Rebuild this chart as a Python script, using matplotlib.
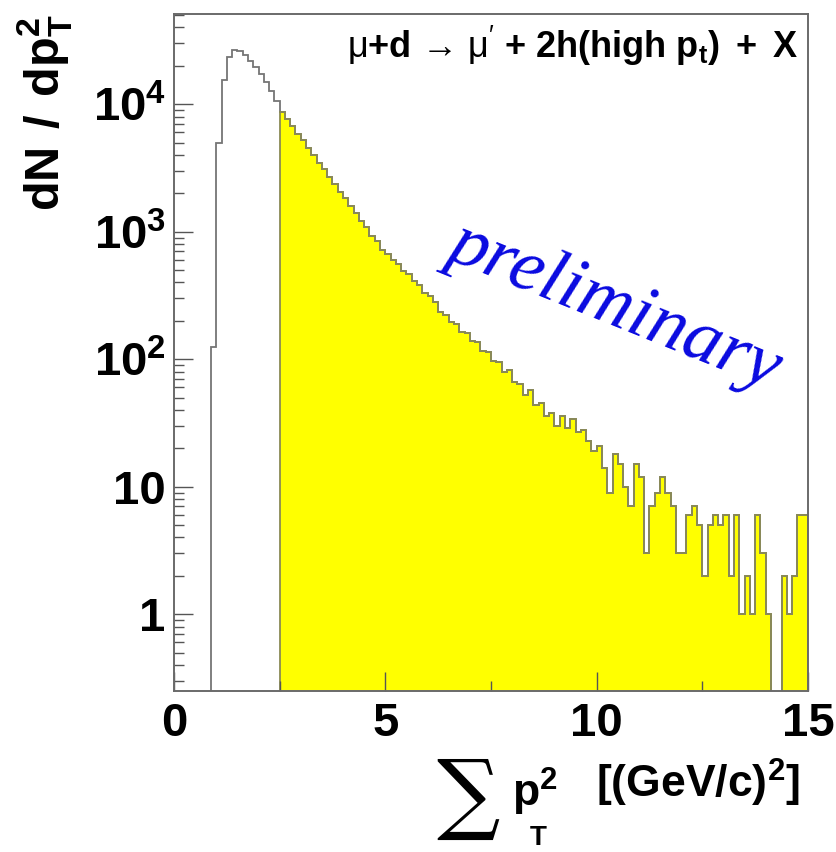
import matplotlib.pyplot as plt
import numpy as np
from matplotlib.ticker import FixedLocator, FixedFormatter, NullFormatter

plt.rcParams["font.family"] = ["Liberation Sans", "DejaVu Sans"]
plt.rcParams["mathtext.fontset"] = "custom"
plt.rcParams["mathtext.rm"] = "Liberation Sans"
plt.rcParams["mathtext.bf"] = "Liberation Sans:bold"
plt.rcParams["mathtext.it"] = "Liberation Sans:italic"

# sum of pT^2 histogram, 120 bins of 0.125 (GeV/c)^2 between 0 and 15
edges = np.linspace(0.0, 15.0, 121)
counts = np.array([
    0, 0, 0, 0, 0, 0, 0, 124, 5000, 15400,
    23500, 26500, 26000, 24200, 22000, 19600, 17300, 15000, 12700, 10500,
    8700, 7600, 6750, 5850, 5200, 4500, 4000, 3450, 3080, 2680,
    2380, 2050, 1830, 1580, 1410, 1210, 1090, 930, 840, 720,
    665, 598, 560, 495, 468, 410, 385, 330, 312, 280,
    236, 222, 196, 189, 164, 160, 140, 136, 116, 114,
    96, 95, 80, 82, 66, 64, 52, 57, 44, 45,
    36, 38, 30, 36, 29, 34, 27, 28, 23, 19,
    21, 14, 9, 18, 15, 10, 7, 15, 12, 3,
    7, 9, 12, 9, 7, 3, 3, 6, 7, 5,
    2, 5, 6, 5, 6, 2, 6, 1, 2, 1,
    6, 3, 1, 0, 0, 2, 1, 2, 6, 6,
], dtype=float)
cut = 2.5

y_major = [1, 10, 100, 1000, 10000]
y_labels = ["1", "10", r"$\mathbf{10^{2}}$", r"$\mathbf{10^{3}}$", r"$\mathbf{10^{4}}$"]
x_major = [0, 5, 10, 15]
x_minor = [2.5, 7.5, 12.5]

floor = 1e-3
shown = np.where(counts > 0, counts, floor)
tail = edges[:-1] >= cut - 1e-9

fig = plt.figure(figsize=(8.36, 8.52), dpi=100)
ax = fig.add_axes([0.2081, 0.1890, 0.7584, 0.7946])

line_col = "#757575"
ax.stairs(shown[tail], edges[np.r_[tail, True]], baseline=floor, fill=True,
          color="#ffff00", lw=0)
ax.stairs(shown, edges, baseline=floor, color=line_col, lw=1.3)
ax.stairs(shown[tail], edges[np.r_[tail, True]], baseline=floor,
          color="#8a8a55", lw=1.3)

ax.set_yscale("log")
ax.set_xlim(0, 15)
ax.set_ylim(0.25, 5.1e4)

ax.xaxis.set_major_locator(FixedLocator(x_major))
ax.xaxis.set_minor_locator(FixedLocator(x_minor))
ax.xaxis.set_major_formatter(FixedFormatter([str(v) for v in x_major]))
ax.yaxis.set_major_locator(FixedLocator(y_major))
ax.yaxis.set_major_formatter(FixedFormatter(y_labels))
ax.yaxis.set_minor_locator(FixedLocator(
    [m * 10.0 ** e for e in range(-1, 5) for m in range(2, 10)]))
ax.yaxis.set_minor_formatter(NullFormatter())

ax.tick_params(which="both", direction="in", top=False, right=False,
               color="#555555", width=1.0)
ax.tick_params(which="major", length=14, labelsize=34)
ax.tick_params(which="minor", length=7)
ax.tick_params(axis="x", pad=8)
ax.tick_params(axis="y", pad=6)
for lab in ax.get_xticklabels() + ax.get_yticklabels():
    lab.set_fontweight("bold")
for s in ax.spines.values():
    s.set_color("#6a6a6a")
    s.set_linewidth(1.4)

# axis titles
fig.text(45 / 836, 1 - 14 / 852, r"$\mathbf{dN\;\,/\;\,dp_{T}^{2}}$",
         rotation=90, ha="center", va="top", fontsize=35)
fig.text(468 / 836, 1 - 798 / 852, "\u2211", family="DejaVu Serif",
         ha="center", va="center", fontsize=64)
fig.text(512 / 836, 1 - 792 / 852, r"$\mathbf{p^{2}}$",
         ha="left", va="center", fontsize=32)
fig.text(538 / 836, 1 - 838 / 852, "T", fontweight="bold",
         ha="center", va="center", fontsize=20)
fig.text(800 / 836, 1 - 783 / 852, r"$\mathbf{[(GeV/c)^{2}]}$",
         ha="right", va="center", fontsize=32)

# process label and watermark
ax.text(0.985, 0.953,
        r"μ$\mathbf{+d}$ → μ$^{\prime}$ $\mathbf{+\ 2h(high\ p_{t})\ +\ X}$",
        transform=ax.transAxes, ha="right", va="center", fontsize=26)
ax.text(0.696, 0.57, "preliminary", transform=ax.transAxes,
        family="Liberation Serif", style="italic", color="#0a0ae0",
        fontsize=54, rotation=-22, rotation_mode="anchor",
        ha="center", va="center")

plt.savefig("out.png", dpi=100)
plt.close()
